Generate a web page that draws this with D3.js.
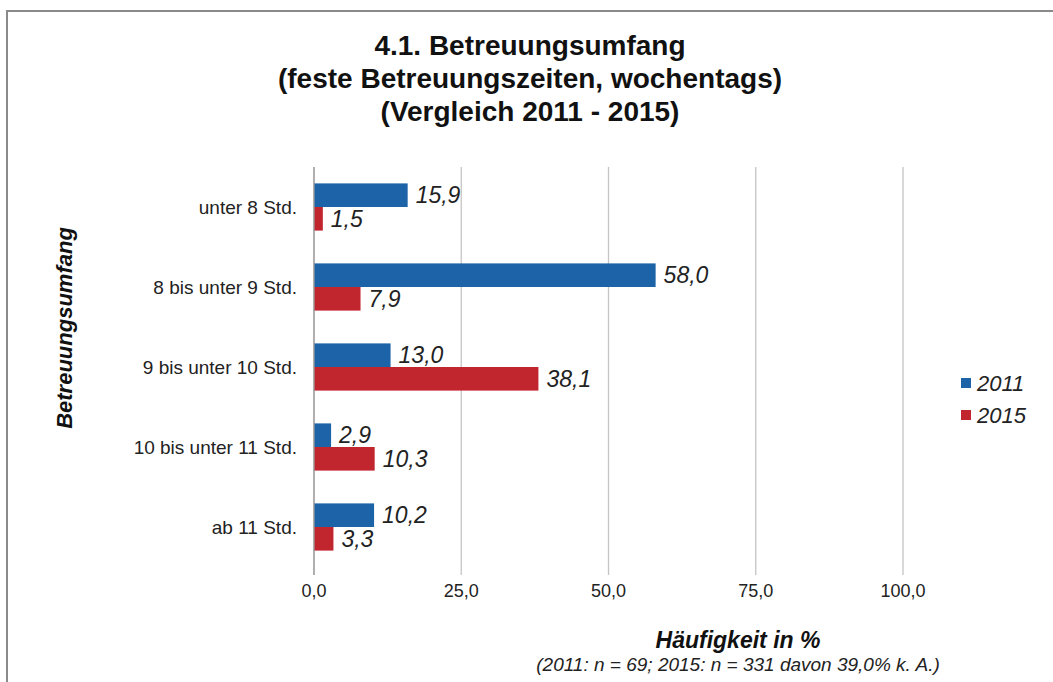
<!DOCTYPE html>
<html>
<head>
<meta charset="utf-8">
<script src="https://cdn.jsdelivr.net/npm/d3@7"></script>
<style>
  body { margin: 0; background: #fff; }
  svg { font-family: "Liberation Sans", Arial, sans-serif; }
</style>
</head>
<body>
<div id="chart"></div>
<script>
const categories = [
  "unter 8 Std.",
  "8 bis unter 9 Std.",
  "9 bis unter 10 Std.",
  "10 bis unter 11 Std.",
  "ab 11 Std."
];
const seriesNames = ["2011", "2015"];
const values2011 = [15.9, 58.0, 13.0, 2.9, 10.2];
const values2015 = [1.5, 7.9, 38.1, 10.3, 3.3];
const xTicks = [0, 25, 50, 75, 100];
const titleLines = [
  "4.1. Betreuungsumfang",
  "(feste Betreuungszeiten, wochentags)",
  "(Vergleich 2011 - 2015)"
];

const width = 1053, height = 682;
const colors = ["#1c63a8", "#c1252e"];
const margin = { top: 167, left: 314, bottom: 115 };
const plotW = 589;

const fmt = d => d3.format(".1f")(d).replace(".", ",");

const svg = d3.select("#chart").append("svg")
  .attr("width", width)
  .attr("height", height);

// frame around the picture
svg.append("path")
  .attr("d", "M7,682 V11 H1053")
  .attr("fill", "none")
  .attr("stroke", "#8a8a8a")
  .attr("stroke-width", 2);

// title
svg.append("g").selectAll("text")
  .data(titleLines)
  .enter().append("text")
  .attr("x", 530)
  .attr("y", (d, i) => 55 + i * 33)
  .attr("text-anchor", "middle")
  .attr("font-size", 28)
  .attr("font-weight", "bold")
  .attr("fill", "#111")
  .text(d => d);

const x = d3.scaleLinear()
  .domain([0, 100])
  .range([margin.left, margin.left + plotW]);

const y = d3.scaleBand()
  .domain(categories)
  .range([margin.top, height - margin.bottom])
  .paddingInner(0.41)
  .paddingOuter(0.205);

const ySub = d3.scaleBand()
  .domain(seriesNames)
  .range([0, y.bandwidth()]);

// vertical gridlines
svg.append("g").selectAll("line")
  .data(xTicks)
  .enter().append("line")
  .attr("x1", d => x(d)).attr("x2", d => x(d))
  .attr("y1", margin.top).attr("y2", height - margin.bottom + 8)
  .attr("stroke", "#c4c4c4")
  .attr("stroke-width", 1.3);

// x tick labels
svg.append("g").selectAll("text")
  .data(xTicks)
  .enter().append("text")
  .attr("x", d => x(d))
  .attr("y", 597)
  .attr("text-anchor", "middle")
  .attr("font-size", 18)
  .attr("fill", "#222")
  .text(d => fmt(d));

// category labels
svg.append("g").selectAll("text")
  .data(categories)
  .enter().append("text")
  .attr("x", 297)
  .attr("y", d => y(d) + y.bandwidth() / 2 + 7)
  .attr("text-anchor", "end")
  .attr("font-size", 19)
  .attr("fill", "#222")
  .text(d => d);

const rows = categories.map((c, i) => ({
  category: c,
  values: [
    { series: "2011", value: values2011[i] },
    { series: "2015", value: values2015[i] }
  ]
}));

const groups = svg.append("g").selectAll("g.row")
  .data(rows)
  .enter().append("g")
  .attr("class", "row")
  .attr("transform", d => "translate(0," + y(d.category) + ")");

groups.selectAll("rect")
  .data(d => d.values)
  .enter().append("rect")
  .attr("x", x(0))
  .attr("y", d => ySub(d.series))
  .attr("width", d => x(d.value) - x(0))
  .attr("height", ySub.bandwidth())
  .attr("fill", (d, i) => colors[i]);

groups.selectAll("text")
  .data(d => d.values)
  .enter().append("text")
  .attr("x", d => x(d.value) + 8)
  .attr("y", d => ySub(d.series) + ySub.bandwidth() / 2 + 8)
  .attr("font-size", 23)
  .attr("font-style", "italic")
  .attr("fill", "#222")
  .text(d => fmt(d.value));

// zero axis line on top
svg.append("line")
  .attr("x1", x(0)).attr("x2", x(0))
  .attr("y1", margin.top).attr("y2", height - margin.bottom + 8)
  .attr("stroke", "#9a9a9a")
  .attr("stroke-width", 1.3);

// y axis title
svg.append("text")
  .attr("transform", "translate(72,328) rotate(-90)")
  .attr("text-anchor", "middle")
  .attr("font-size", 22)
  .attr("font-weight", "bold")
  .attr("font-style", "italic")
  .attr("fill", "#111")
  .text("Betreuungsumfang");

// x axis title
svg.append("text")
  .attr("x", 738)
  .attr("y", 648)
  .attr("text-anchor", "middle")
  .attr("font-size", 23)
  .attr("font-weight", "bold")
  .attr("font-style", "italic")
  .attr("fill", "#111")
  .text("Häufigkeit in %");

svg.append("text")
  .attr("x", 738)
  .attr("y", 671)
  .attr("text-anchor", "middle")
  .attr("font-size", 19)
  .attr("font-style", "italic")
  .attr("fill", "#222")
  .text("(2011: n = 69; 2015: n = 331 davon 39,0% k. A.)");

// legend
const legend = svg.append("g").selectAll("g")
  .data(seriesNames)
  .enter().append("g")
  .attr("transform", (d, i) => "translate(961," + (378 + i * 32) + ")");

legend.append("rect")
  .attr("width", 10).attr("height", 10)
  .attr("fill", (d, i) => colors[i]);

legend.append("text")
  .attr("x", 16)
  .attr("y", 13)
  .attr("font-size", 22)
  .attr("font-style", "italic")
  .attr("fill", "#222")
  .text(d => d);
</script>
</body>
</html>
